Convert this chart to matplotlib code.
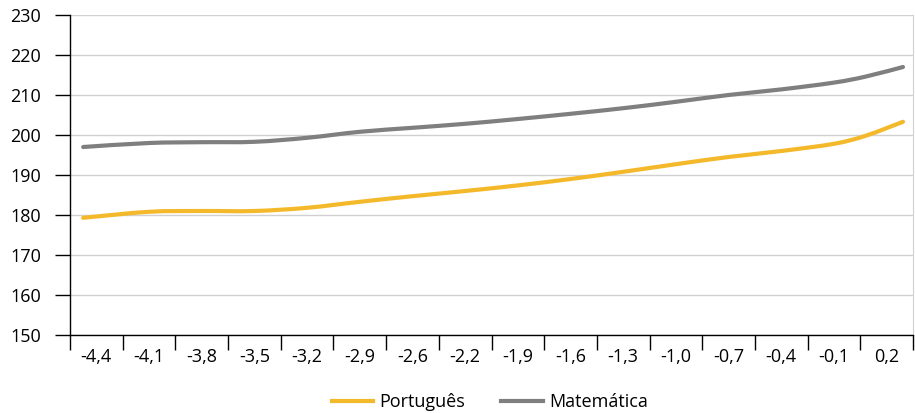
import numpy as np
from matplotlib import rcParams

rcParams['font.family'] = ['Open Sans', 'DejaVu Sans']
from matplotlib import pyplot as plt
from matplotlib.path import Path
from matplotlib.patches import PathPatch
from matplotlib.lines import Line2D

# category labels on the x axis
categories = ["-4,4", "-4,1", "-3,8", "-3,5", "-3,2", "-2,9", "-2,6", "-2,2",
              "-1,9", "-1,6", "-1,3", "-1,0", "-0,7", "-0,4", "-0,1", "0,2"]

# positions along the category axis (0 = first category centre)
pos = [-0.25, 1, 2, 3, 4, 5, 6, 7, 8, 9, 10, 11, 12, 13, 14, 14.6, 15.31]

portugues = [179.3, 180.8, 181.0, 181.0, 181.8, 183.3, 184.7, 186.0,
             187.4, 189.0, 190.8, 192.7, 194.5, 196.0, 197.8, 199.8, 203.3]
matematica = [197.0, 198.0, 198.2, 198.3, 199.3, 200.8, 201.8, 202.8,
              204.0, 205.3, 206.7, 208.3, 210.0, 211.4, 213.1, 214.6, 217.0]


def smooth_path(xs, ys):
    # bezier segments through the points, like a spreadsheet "smoothed line"
    xs = np.asarray(xs, float)
    ys = np.asarray(ys, float)
    verts = [(xs[0], ys[0])]
    codes = [Path.MOVETO]
    n = len(xs)
    for i in range(n - 1):
        i0 = max(i - 1, 0)
        i3 = min(i + 2, n - 1)
        c1 = (xs[i] + (xs[i + 1] - xs[i0]) / 6, ys[i] + (ys[i + 1] - ys[i0]) / 6)
        c2 = (xs[i + 1] - (xs[i3] - xs[i]) / 6, ys[i + 1] - (ys[i3] - ys[i]) / 6)
        verts += [c1, c2, (xs[i + 1], ys[i + 1])]
        codes += [Path.CURVE4] * 3
    return Path(verts, codes)


def main():
    fig = plt.figure(figsize=(9.15, 4.13), dpi=100)
    ax = fig.add_axes([70 / 915, 1 - 335 / 413, 843 / 915, 320 / 413])

    series = [("Português", portugues, '#F4B92B'), ("Matemática", matematica, '#7F7F7F')]
    handles = []
    for name, vals, col in series:
        patch = PathPatch(smooth_path(pos, vals), facecolor='none', edgecolor=col, lw=3,
                          capstyle='round', zorder=3)
        ax.add_patch(patch)
        handles.append(Line2D([], [], color=col, lw=3, label=name))

    n = len(categories)
    ax.set_xlim(-0.5, n - 0.5)
    ax.set_ylim(150, 230)
    ax.set_yticks(np.arange(150, 231, 10))
    ax.yaxis.grid(True, color='#D0D0D0', lw=1)
    ax.set_axisbelow(True)

    ax.set_xticks(np.arange(n + 1) - 0.5)
    ax.set_xticklabels([])
    ax.set_xticks(np.arange(n), minor=True)
    ax.set_xticklabels(categories, minor=True)
    ax.tick_params(axis='x', which='major', length=11, width=1, direction='out', color='black')
    ax.tick_params(axis='x', which='minor', length=0, pad=9, labelsize=13)
    ax.tick_params(axis='y', length=11, width=1, pad=10, labelsize=13)

    for s in ['left', 'bottom']:
        ax.spines[s].set_color('black')
        ax.spines[s].set_linewidth(1)
    ax.spines['top'].set_visible(False)
    ax.spines['right'].set_color('#D0D0D0')

    fig.legend(handles=handles, loc='lower center', bbox_to_anchor=(490 / 915, -0.035), ncol=2,
               frameon=False, fontsize=13, handlelength=2.3, handletextpad=0.35, columnspacing=2.0)

    plt.savefig("out.png", dpi=100)


if __name__ == "__main__":
    main()
